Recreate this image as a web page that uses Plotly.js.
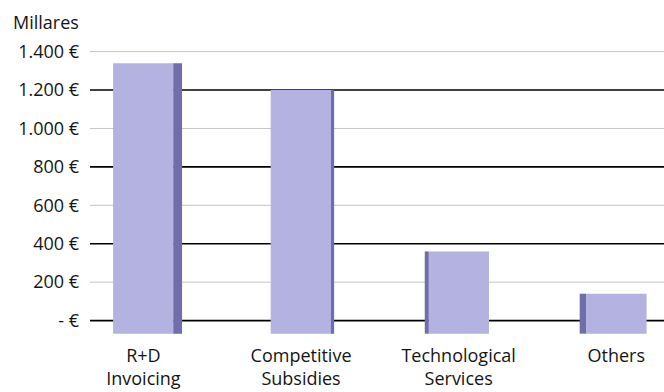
<!DOCTYPE html>
<html>
<head>
<meta charset="utf-8">
<script src="https://cdn.plot.ly/plotly-3.0.1.min.js"></script>
<style>html,body{margin:0;padding:0;background:#fff;}#chart{width:664px;height:392px;}</style>
</head>
<body>
<div id="chart"></div>
<script>
// Data
var categories = ["R+D<br>Invoicing", "Competitive<br>Subsidies", "Technological<br>Services", "Others"];
var values = [1340, 1200, 360, 140];
var tickValues = [0, 200, 400, 600, 800, 1000, 1200, 1400];
var tickLabels = ["- €", "200 €", "400 €", "600 €", "800 €", "1.000 €", "1.200 €", "1.400 €"];
var majorLines = [0, 400, 800, 1200];
var minorLines = [200, 600, 1000, 1400];
var unitLabel = "Millares";

var xIdx = categories.map(function (c, i) { return i; });
var depthBase = -68;
var FONT = "Open Sans, Liberation Sans, Arial, sans-serif";
var TXT = { family: FONT, size: 18, color: "#151515", weight: 400 };

var front = {
  type: "bar", x: xIdx, y: values.map(function (v) { return v - depthBase; }), base: depthBase,
  width: 0.385, marker: { color: "#b4b2e0", line: { width: 0 } },
  hoverinfo: "skip"
};
var side = {
  type: "bar", x: xIdx, y: values.map(function (v) { return v - depthBase; }), base: depthBase,
  offset: [0.19, 0.19, -0.215, -0.232], width: [0.055, 0.02, 0.025, 0.04],
  marker: { color: "#6f6dab", line: { width: 0 } },
  hoverinfo: "skip"
};

var shapes = majorLines.map(function (v) {
  return { type: "line", xref: "paper", x0: 0, x1: 1, yref: "y", y0: v, y1: v,
           line: { color: "#000", width: 1.6 }, layer: "below" };
}).concat(minorLines.map(function (v) {
  return { type: "line", xref: "paper", x0: 0, x1: 1, yref: "y", y0: v, y1: v,
           line: { color: "#c4c4c4", width: 1 }, layer: "below" };
}));

var layout = {
  width: 664, height: 392,
  margin: { l: 90, r: 0, t: 42, b: 57 },
  paper_bgcolor: "#fff", plot_bgcolor: "#fff",
  showlegend: false, barmode: "overlay",
  font: TXT,
  xaxis: {
    range: [-0.339, 3.303], tickvals: xIdx, ticktext: categories,
    showgrid: false, zeroline: false, showline: false, ticks: "", ticklabelstandoff: 8,
    tickfont: TXT
  },
  yaxis: {
    range: [-75, 1450], tickvals: tickValues, ticktext: tickLabels,
    showgrid: false, zeroline: false, showline: false,
    ticks: "", ticklabelstandoff: 10,
    tickfont: TXT
  },
  shapes: shapes,
  annotations: [{
    text: unitLabel, xref: "paper", yref: "paper", x: 0, y: 1, xanchor: "right", yanchor: "bottom",
    xshift: -9, yshift: 6, showarrow: false, font: TXT
  }]
};

Plotly.newPlot("chart", [front, side], layout, { displayModeBar: false, staticPlot: true });
</script>
</body>
</html>
